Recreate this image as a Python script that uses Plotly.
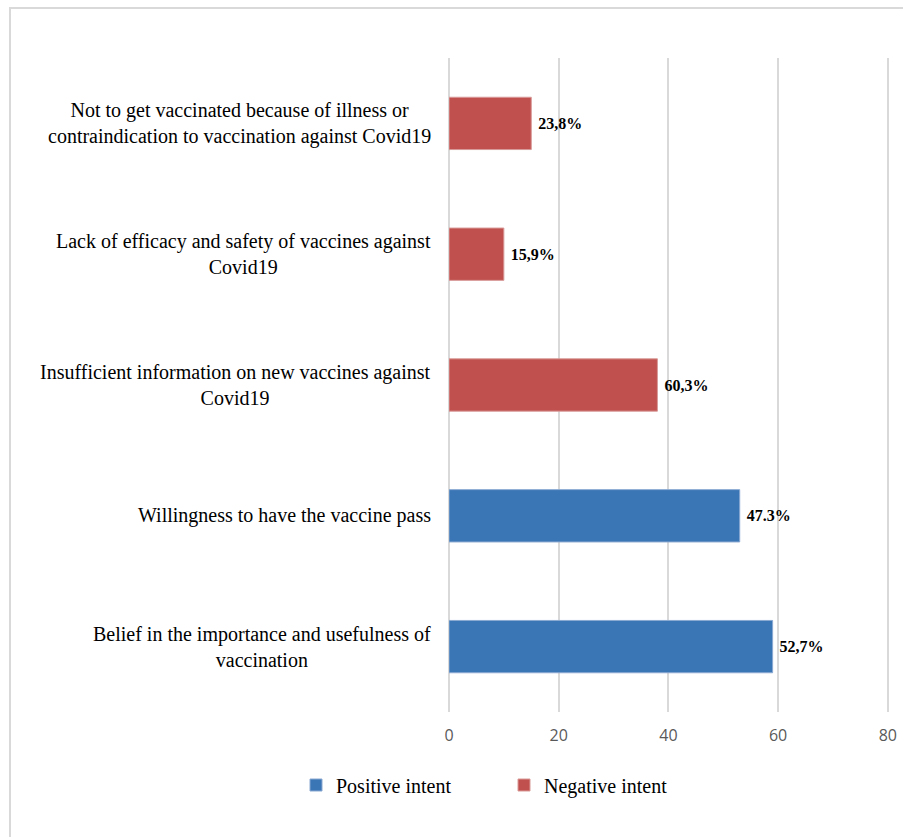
import plotly.graph_objects as go

categories = [
    "Belief in the importance and usefulness of<br>vaccination",
    "Willingness to have the vaccine pass",
    "Insufficient information on new vaccines against<br>Covid19",
    "Lack of efficacy and safety of vaccines against<br>Covid19",
    "Not to get vaccinated because of illness or<br>contraindication to vaccination against Covid19",
]
keys = ["belief", "pass", "info", "efficacy", "illness"]

pos_keys = ["belief", "pass"]
pos_values = [59, 53]
pos_labels = ["52,7%", "47.3%"]

neg_keys = ["info", "efficacy", "illness"]
neg_values = [38, 10, 15]
neg_labels = ["60,3%", "15,9%", "23,8%"]

x_ticks = [0, 20, 40, 60, 80]

BLUE = "#3a75b5"
RED = "#c0504d"

fig = go.Figure()
fig.add_trace(go.Bar(
    y=pos_keys, x=pos_values, orientation="h", name="Positive intent",
    marker=dict(color=BLUE, line=dict(color="#8aa9d2", width=1)),
    width=0.4, text=pos_labels, textposition="outside",
    textfont=dict(family="Liberation Serif", size=16, color="black"),
    cliponaxis=False,
))
fig.add_trace(go.Bar(
    y=neg_keys, x=neg_values, orientation="h", name="Negative intent",
    marker=dict(color=RED, line=dict(color="#d89a98", width=1)),
    width=0.4, text=neg_labels, textposition="outside",
    textfont=dict(family="Liberation Serif", size=16, color="black"),
    cliponaxis=False,
))

for t in fig.data:
    t.texttemplate = "&nbsp;<b>%{text}</b>"

annotations = []
for k, c in zip(keys, categories):
    annotations.append(dict(
        x=0, xref="paper", xanchor="right", xshift=-16,
        y=k, yref="y", yanchor="middle",
        text=c, showarrow=False, align="center",
        font=dict(family="Liberation Serif", size=20, color="black"),
    ))

L, R, T, B = 449, 13, 58, 125
pw = 903 - L - R
ph = 837 - T - B

def px_to_paper_x(px):
    return (px - L) / pw

def px_to_paper_y(py):
    return (837 - B - py) / ph

shapes = [
    dict(type="line", xref="paper", yref="paper",
         x0=px_to_paper_x(9), x1=px_to_paper_x(905),
         y0=px_to_paper_y(8), y1=px_to_paper_y(8),
         line=dict(color="#d9d9d9", width=2)),
    dict(type="line", xref="paper", yref="paper",
         x0=px_to_paper_x(10), x1=px_to_paper_x(10),
         y0=px_to_paper_y(8), y1=px_to_paper_y(840),
         line=dict(color="#d9d9d9", width=2)),
]

fig.update_layout(
    width=903, height=837,
    margin=dict(l=L, r=R, t=T, b=B, autoexpand=False),
    paper_bgcolor="white", plot_bgcolor="white",
    barmode="overlay",
    annotations=annotations,
    shapes=shapes,
    showlegend=True,
    legend=dict(
        orientation="h", x=px_to_paper_x(296), xanchor="left",
        y=px_to_paper_y(785), yanchor="middle",
        font=dict(family="Liberation Serif", size=20, color="black"),
        entrywidth=163, entrywidthmode="pixels",
        traceorder="normal",
    ),
    xaxis=dict(
        range=[0, 80.4], tickvals=x_ticks, showgrid=True,
        gridcolor="#d9d9d9", gridwidth=2,
        zeroline=True, zerolinecolor="#d9d9d9", zerolinewidth=2,
        showline=False, ticks="", automargin=False,
        tickfont=dict(family="Open Sans", size=16, color="#595959"),
        ticklabelstandoff=12,
    ),
    yaxis=dict(
        categoryorder="array", categoryarray=keys,
        range=[-0.5, 4.5], showticklabels=False, showgrid=False,
        zeroline=False, showline=False, ticks="", automargin=False,
    ),
)

fig.write_html("out.html")
